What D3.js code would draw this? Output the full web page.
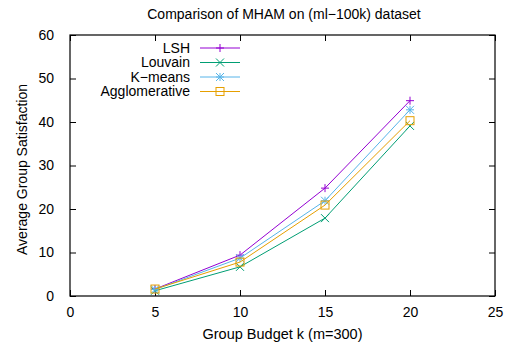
<!DOCTYPE html>
<html>
<head>
<meta charset="utf-8">
<script src="https://cdn.jsdelivr.net/npm/d3@7"></script>
<style>
  body { margin: 0; background: #fff; }
  text { font-family: "Liberation Sans", Arial, sans-serif; }
</style>
</head>
<body>
<div id="chart"></div>
<script>
const budgets = [5, 10, 15, 20];
const seriesNames = ["LSH", "Louvain", "K\u2212means", "Agglomerative"];
const lshValues = [1.6, 9.4, 24.8, 44.9];
const louvainValues = [1.2, 6.7, 17.9, 39.1];
const kmeansValues = [1.5, 8.7, 21.9, 42.8];
const agglomValues = [1.6, 7.8, 20.9, 40.3];
const xTicks = [0, 5, 10, 15, 20, 25];
const yTicks = [0, 10, 20, 30, 40, 50, 60];
const colors = ["#9400d3", "#009e73", "#56b4e9", "#e69f00"];
const markers = ["plus", "cross", "star", "square"];

const width = 508, height = 349;
const margin = { top: 35, right: 13, bottom: 53, left: 70 };

const svg = d3.select("#chart").append("svg")
  .attr("width", width).attr("height", height);

let xScale = d3.scaleLinear().domain([0, 25]).range([margin.left, width - margin.right]);
let yScale = d3.scaleLinear().domain([0, 60]).range([height - margin.bottom, margin.top]);

// axes with inward ticks, mirrored on top/right
const tickLen = 6;
svg.append("g").attr("transform", `translate(0,${yScale(0)})`)
  .call(d3.axisBottom(xScale).tickValues(xTicks).tickSize(-tickLen).tickPadding(11))
  .call(g => g.select(".domain").remove());
svg.append("g").attr("transform", `translate(0,${yScale(60)})`)
  .call(d3.axisTop(xScale).tickValues(xTicks).tickSize(-tickLen).tickFormat(""))
  .call(g => g.select(".domain").remove());
svg.append("g").attr("transform", `translate(${xScale(0)},0)`)
  .call(d3.axisLeft(yScale).tickValues(yTicks).tickSize(-tickLen).tickPadding(16))
  .call(g => g.select(".domain").remove());
svg.append("g").attr("transform", `translate(${xScale(25)},0)`)
  .call(d3.axisRight(yScale).tickValues(yTicks).tickSize(-tickLen).tickFormat(""))
  .call(g => g.select(".domain").remove());

svg.selectAll(".tick text").attr("font-size", 14).attr("fill", "#000")
  .style("font-family", "Liberation Sans, Arial, sans-serif");
svg.selectAll(".tick line").attr("stroke", "#000");

svg.append("rect")
  .attr("x", xScale(0)).attr("y", yScale(60))
  .attr("width", xScale(25) - xScale(0)).attr("height", yScale(0) - yScale(60))
  .attr("fill", "none").attr("stroke", "#000").attr("stroke-width", 1.2);

function drawMarker(g, type, x, y, color) {
  const s = 4;
  if (type === "plus") {
    g.append("path").attr("d", `M${x - s},${y}H${x + s}M${x},${y - s}V${y + s}`)
      .attr("stroke", color).attr("fill", "none");
  } else if (type === "cross") {
    g.append("path").attr("d", `M${x - s},${y - s}L${x + s},${y + s}M${x - s},${y + s}L${x + s},${y - s}`)
      .attr("stroke", color).attr("fill", "none");
  } else if (type === "star") {
    g.append("path").attr("d", `M${x - s},${y}H${x + s}M${x},${y - s}V${y + s}M${x - s},${y - s}L${x + s},${y + s}M${x - s},${y + s}L${x + s},${y - s}`)
      .attr("stroke", color).attr("fill", "none");
  } else {
    g.append("rect").attr("x", x - s).attr("y", y - s).attr("width", 2 * s).attr("height", 2 * s)
      .attr("stroke", color).attr("fill", "none");
  }
}

const allSeries = [lshValues, louvainValues, kmeansValues, agglomValues];
const line = d3.line().x((d, i) => xScale(budgets[i])).y(d => yScale(d));

allSeries.forEach((vals, k) => {
  const g = svg.append("g");
  g.append("path").attr("d", line(vals))
    .attr("fill", "none").attr("stroke", colors[k]).attr("stroke-width", 1);
  vals.forEach((v, i) => drawMarker(g, markers[k], xScale(budgets[i]), yScale(v), colors[k]));
});

// legend
const legX = 190, legY = 48, legStep = 14.5;
seriesNames.forEach((name, k) => {
  const y = legY + k * legStep;
  svg.append("text").attr("x", legX).attr("y", y).attr("dy", "0.35em")
    .attr("text-anchor", "end").attr("font-size", 14).text(name);
  svg.append("line").attr("x1", 200).attr("x2", 240).attr("y1", y).attr("y2", y)
    .attr("stroke", colors[k]).attr("stroke-width", 1);
  drawMarker(svg, markers[k], 220, y, colors[k]);
});

svg.append("text").attr("x", 284).attr("y", 19)
  .attr("text-anchor", "middle").attr("font-size", 14).text("Comparison of MHAM on (ml\u2212100k) dataset");
svg.append("text").attr("x", (xScale(0) + xScale(25)) / 2).attr("y", 339)
  .attr("text-anchor", "middle").attr("font-size", 14.5).text("Group Budget k (m=300)");
svg.append("text")
  .attr("transform", `translate(27,${(yScale(0) + yScale(60)) / 2 + 4}) rotate(-90)`)
  .attr("text-anchor", "middle").attr("font-size", 14).text("Average Group Satisfaction");
</script>
</body>
</html>
